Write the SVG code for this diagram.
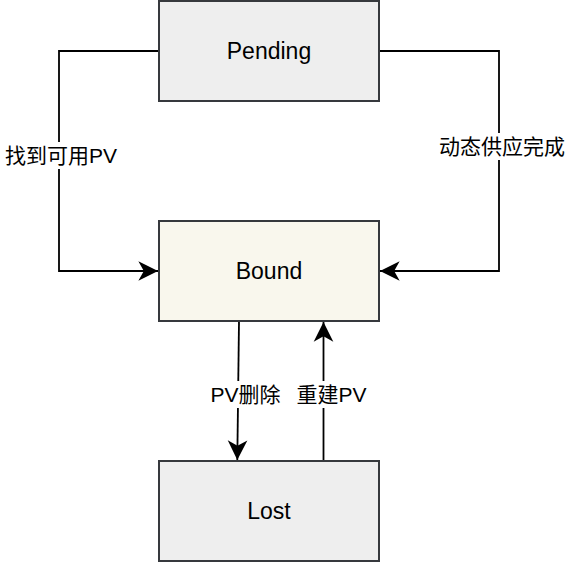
<svg xmlns="http://www.w3.org/2000/svg" width="568" height="562" viewBox="0 0 568 562">
  <style>
    .box { stroke: #36393d; stroke-width: 2; }
    .gray { fill: #eeeeee; }
    .cream { fill: #f9f7ed; }
    .main { font-family: "Liberation Sans", "Noto Sans CJK SC", sans-serif; font-size: 23px; fill: #000; text-anchor: middle; }
    .lbl { font-family: "Liberation Sans", "Noto Sans CJK SC", sans-serif; font-size: 21px; fill: #000; text-anchor: middle; }
    .edge { fill: none; stroke: #000; stroke-width: 1.8; }
    .lblbg { fill: #ffffff; }
  </style>
  <defs>
    <marker id="arr" markerUnits="userSpaceOnUse" markerWidth="24" markerHeight="24" viewBox="-20 -10 22 20" refX="0" refY="0" orient="auto">
      <path d="M0,0 L-18,-9 L-13,0 L-18,9 Z" fill="#000"/>
    </marker>
  </defs>
  <rect width="568" height="562" fill="#ffffff"/>
  <g id="edges">
    <path class="edge" d="M159,51 H59 V271 H158" marker-end="url(#arr)"/>
    <path class="edge" d="M379,51 H499 V271 H380" marker-end="url(#arr)"/>
    <path class="edge" d="M239,321 L237.3,460" marker-end="url(#arr)"/>
    <path class="edge" d="M323.5,461 V322" marker-end="url(#arr)"/>
    <rect class="lblbg" x="2" y="142" width="118" height="27"/>
    <text class="lbl" x="61" y="163">找到可用PV</text>
    <rect class="lblbg" x="436" y="133" width="131" height="27"/>
    <text class="lbl" x="502" y="154">动态供应完成</text>
    <rect class="lblbg" x="208" y="381" width="75" height="27"/>
    <text class="lbl" x="245.5" y="402">PV删除</text>
    <rect class="lblbg" x="289" y="381" width="85" height="27"/>
    <text class="lbl" x="331.5" y="402">重建PV</text>
  </g>
  <g id="pending">
    <rect class="box gray" x="159" y="1" width="220" height="100"/>
    <text class="main" x="269" y="59">Pending</text>
  </g>
  <g id="bound">
    <rect class="box cream" x="159" y="221" width="220" height="100"/>
    <text class="main" x="269" y="279">Bound</text>
  </g>
  <g id="lost">
    <rect class="box gray" x="159" y="461" width="220" height="100"/>
    <text class="main" x="269" y="519">Lost</text>
  </g>
</svg>
